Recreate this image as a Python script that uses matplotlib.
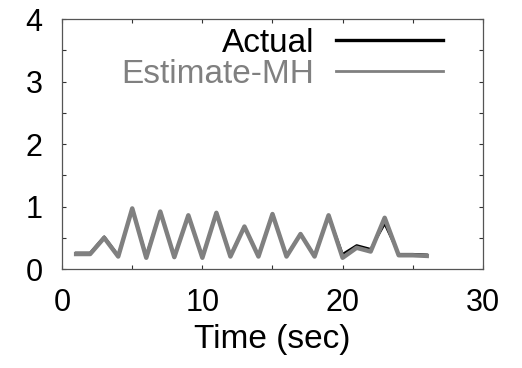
import numpy as np
import matplotlib.pyplot as plt
from matplotlib.lines import Line2D
from matplotlib.ticker import MultipleLocator

plt.rcParams['font.family'] = ['Liberation Sans', 'DejaVu Sans']

# Datos
tiempo = list(range(1, 27))
actual = [0.26, 0.26, 0.52, 0.22, 0.97, 0.22, 0.92, 0.21, 0.86, 0.20,
          0.90, 0.22, 0.68, 0.22, 0.88, 0.22, 0.56, 0.22, 0.86, 0.24,
          0.38, 0.32, 0.72, 0.24, 0.24, 0.23]
estimado = [0.24, 0.24, 0.50, 0.20, 0.97, 0.18, 0.92, 0.19, 0.86, 0.18,
            0.90, 0.20, 0.68, 0.20, 0.88, 0.20, 0.56, 0.20, 0.86, 0.18,
            0.34, 0.28, 0.82, 0.22, 0.22, 0.21]
etiquetas = ['Actual', 'Estimate-MH']
colores = ['black', '#808080']

fig = plt.figure(figsize=(5.22, 3.68), dpi=100)
ax = fig.add_axes([0.119, 0.269, 0.806, 0.679])

ax.plot(tiempo, actual, color=colores[0], lw=1.6)
ax.plot(tiempo, estimado, color=colores[1], lw=3.2)

ax.set_xlim(0, 30)
ax.set_ylim(0, 4)
ax.xaxis.set_major_locator(MultipleLocator(10))
ax.xaxis.set_minor_locator(MultipleLocator(5))
ax.yaxis.set_major_locator(MultipleLocator(1))
ax.yaxis.set_minor_locator(MultipleLocator(0.5))
ax.tick_params(which='both', direction='in', top=True, right=True,
               length=3, width=0.8, color='#333333', labelsize=22, pad=14)

for s in ax.spines.values():
    s.set_color('#555555')
    s.set_linewidth(0.9)

ax.set_xlabel('Time (sec)', fontsize=24, labelpad=4)

# Leyenda con lineas propias (negra mas gruesa que la gris)
manejadores = [Line2D([], [], color=colores[0], lw=2.4),
               Line2D([], [], color=colores[1], lw=2.0)]
leg = ax.legend(manejadores, etiquetas, loc='upper right', frameon=False,
                markerfirst=False, fontsize=24, handlelength=3.2,
                handletextpad=0.66, labelspacing=0.0, borderaxespad=0,
                borderpad=0, bbox_to_anchor=(0.905, 0.965))
for txt, c in zip(leg.get_texts(), colores):
    txt.set_color(c)

plt.savefig('out.png', dpi=100)
